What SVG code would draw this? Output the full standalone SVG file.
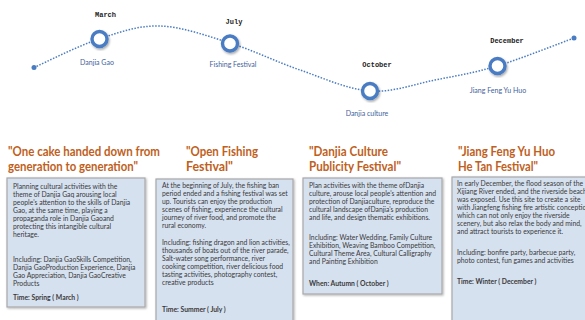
<svg xmlns="http://www.w3.org/2000/svg" width="585" height="320" viewBox="0 0 585 320">
<defs>
<filter id="sh" x="-30%" y="-30%" width="160%" height="160%"><feDropShadow dx="1" dy="1.5" stdDeviation="1" flood-color="#000" flood-opacity="0.35"/></filter>
<filter id="bsh" x="-5%" y="-5%" width="110%" height="110%"><feDropShadow dx="1" dy="1" stdDeviation="0.8" flood-color="#000" flood-opacity="0.3"/></filter>
</defs>
<style>
.month{font-family:"Liberation Mono",monospace;font-weight:bold;font-size:7px;fill:#222;text-anchor:middle}
.nlab{font-family:Lato,"Open Sans",sans-serif;font-size:7px;fill:#3f5f9c;text-anchor:middle}
.ring{fill:#fff;stroke:#4a7cc2;stroke-width:3.4}
.title{font-family:Lato,"Open Sans",sans-serif;font-weight:bold;font-size:12.5px;fill:#c0601c}
.box{fill:#d6e1f0;stroke:#a8a8a8;stroke-width:1.2}
.body{font-family:Lato,"Open Sans",sans-serif;font-size:6.8px;fill:#3a3a3a}
.b{font-weight:bold}
</style>
<g id="connectors">
<path d="M34,67.5 C44.8,62.75 78,45.9 99,39 C120,32.1 138.2,25.3 160,26 C181.8,26.7 206.7,35.7 230,43 C253.3,50.3 276.7,62 300,70 C323.3,78 347.5,89.3 370,91 C392.5,92.7 413.8,84.2 435,80 C456.2,75.8 473.8,73 497,66 C520.2,59 561.2,42.7 574,38" fill="none" stroke="#4a7cc2" stroke-width="1.5" stroke-dasharray="1.5 1.5"/>
<circle cx="34" cy="67.5" r="2.5" fill="#4a7cc2"/>
<circle cx="574" cy="38" r="2.5" fill="#4a7cc2"/>
</g>
<g id="node-march">
<circle class="ring" cx="99.5" cy="39" r="7.5" filter="url(#sh)"/>
<text class="month" x="105.5" y="16.5">March</text>
<text class="nlab" x="97" y="64.5">Danjia Gao</text>
</g>
<g id="node-july">
<circle class="ring" cx="230" cy="43.5" r="7.5" filter="url(#sh)"/>
<text class="month" x="234" y="24">July</text>
<text class="nlab" x="233" y="67">Fishing Festival</text>
</g>
<g id="node-october">
<circle class="ring" cx="370" cy="91" r="7.5" filter="url(#sh)"/>
<text class="month" x="377" y="66.5">October</text>
<text class="nlab" x="367" y="116">Danjia culture</text>
</g>
<g id="node-december">
<circle class="ring" cx="497.5" cy="66" r="7.5" filter="url(#sh)"/>
<text class="month" x="507" y="42.5">December</text>
<text class="nlab" x="498" y="92.5">Jiang Feng Yu Huo</text>
</g>
<g id="card-1">
<text class="title" x="8" y="156" textLength="152" lengthAdjust="spacingAndGlyphs">"One cake handed down from</text>
<text class="title" x="8" y="171" textLength="130" lengthAdjust="spacingAndGlyphs">generation to generation"</text>
<rect class="box" x="7" y="178" width="138" height="129" filter="url(#bsh)"/>
<text class="body">
<tspan x="13" y="189">Planning cultural activities with the</tspan>
<tspan x="13" dy="8">theme of Danjia Gaq arousing local</tspan>
<tspan x="13" dy="8">people's attention to the skills of Danjia</tspan>
<tspan x="13" dy="8">Gao, at the same time, playing a</tspan>
<tspan x="13" dy="8">propaganda role in Danjia Gaoand</tspan>
<tspan x="13" dy="8">protecting this intangible cultural</tspan>
<tspan x="13" dy="8">heritage.</tspan>
<tspan x="13" y="262">Including: Danjia GaoSkills Competition,</tspan>
<tspan x="13" dy="8">Danjia GaoProduction Experience, Danjia</tspan>
<tspan x="13" dy="8">Gao Appreciation, Danjia GaoCreative</tspan>
<tspan x="13" dy="8">Products</tspan>
<tspan x="13" y="300" class="b">Time: Spring ( March )</tspan>
</text>
</g>
<g id="card-2">
<text class="title" x="186" y="156" textLength="72" lengthAdjust="spacingAndGlyphs">"Open Fishing</text>
<text class="title" x="186" y="171" textLength="47" lengthAdjust="spacingAndGlyphs">Festival"</text>
<rect class="box" x="156" y="179" width="137" height="150" filter="url(#bsh)"/>
<text class="body">
<tspan x="162" y="188">At the beginning of July, the fishing ban</tspan>
<tspan x="162" dy="8">period ended and a fishing festival was set</tspan>
<tspan x="162" dy="8">up. Tourists can enjoy the production</tspan>
<tspan x="162" dy="8">scenes of fishing, experience the cultural</tspan>
<tspan x="162" dy="8">journey of river food, and promote the</tspan>
<tspan x="162" dy="8">rural economy.</tspan>
<tspan x="162" y="245">Including: fishing dragon and lion activities,</tspan>
<tspan x="162" dy="8">thousands of boats out of the river parade,</tspan>
<tspan x="162" dy="8">Salt-water song performance, river</tspan>
<tspan x="162" dy="8">cooking competition, river delicious food</tspan>
<tspan x="162" dy="8">tasting activities, photography contest,</tspan>
<tspan x="162" dy="8">creative products</tspan>
<tspan x="162" y="312" class="b">Time: Summer ( July )</tspan>
</text>
</g>
<g id="card-3">
<text class="title" x="309" y="156" textLength="79" lengthAdjust="spacingAndGlyphs">"Danjia Culture</text>
<text class="title" x="309" y="171" textLength="92" lengthAdjust="spacingAndGlyphs">Publicity Festival"</text>
<rect class="box" x="303" y="178" width="139" height="116" filter="url(#bsh)"/>
<text class="body">
<tspan x="309" y="188">Plan activities with the theme ofDanjia</tspan>
<tspan x="309" dy="8">culture, arouse local people's attention and</tspan>
<tspan x="309" dy="8">protection of Danjiaculture, reproduce the</tspan>
<tspan x="309" dy="8">cultural landscape ofDanjia's production</tspan>
<tspan x="309" dy="8">and life, and design thematic exhibitions.</tspan>
<tspan x="309" y="240">Including: Water Wedding, Family Culture</tspan>
<tspan x="309" dy="8">Exhibition, Weaving Bamboo Competition,</tspan>
<tspan x="309" dy="8">Cultural Theme Area, Cultural Calligraphy</tspan>
<tspan x="309" dy="8">and Painting Exhibition</tspan>
<tspan x="309" y="286" class="b">When: Autumn ( October )</tspan>
</text>
</g>
<g id="card-4">
<text class="title" x="458" y="156" textLength="97" lengthAdjust="spacingAndGlyphs">"Jiang Feng Yu Huo</text>
<text class="title" x="458" y="171" textLength="80" lengthAdjust="spacingAndGlyphs">He Tan Festival"</text>
<rect class="box" x="452" y="177" width="140" height="150" filter="url(#bsh)"/>
<text class="body">
<tspan x="457" y="186">In early December, the flood season of the</tspan>
<tspan x="457" dy="8">Xijiang River ended, and the riverside beach</tspan>
<tspan x="457" dy="8">was exposed. Use this site to create a site</tspan>
<tspan x="457" dy="8">with Jiangfeng fishing fire artistic conception</tspan>
<tspan x="457" dy="8">which can not only enjoy the riverside</tspan>
<tspan x="457" dy="8">scenery, but also relax the body and mind,</tspan>
<tspan x="457" dy="8">and attract tourists to experience it.</tspan>
<tspan x="457" y="255">Including: bonfire party, barbecue party,</tspan>
<tspan x="457" dy="8">photo contest, fun games and activities</tspan>
<tspan x="457" y="284" class="b">Time: Winter ( December )</tspan>
</text>
</g>
</svg>
